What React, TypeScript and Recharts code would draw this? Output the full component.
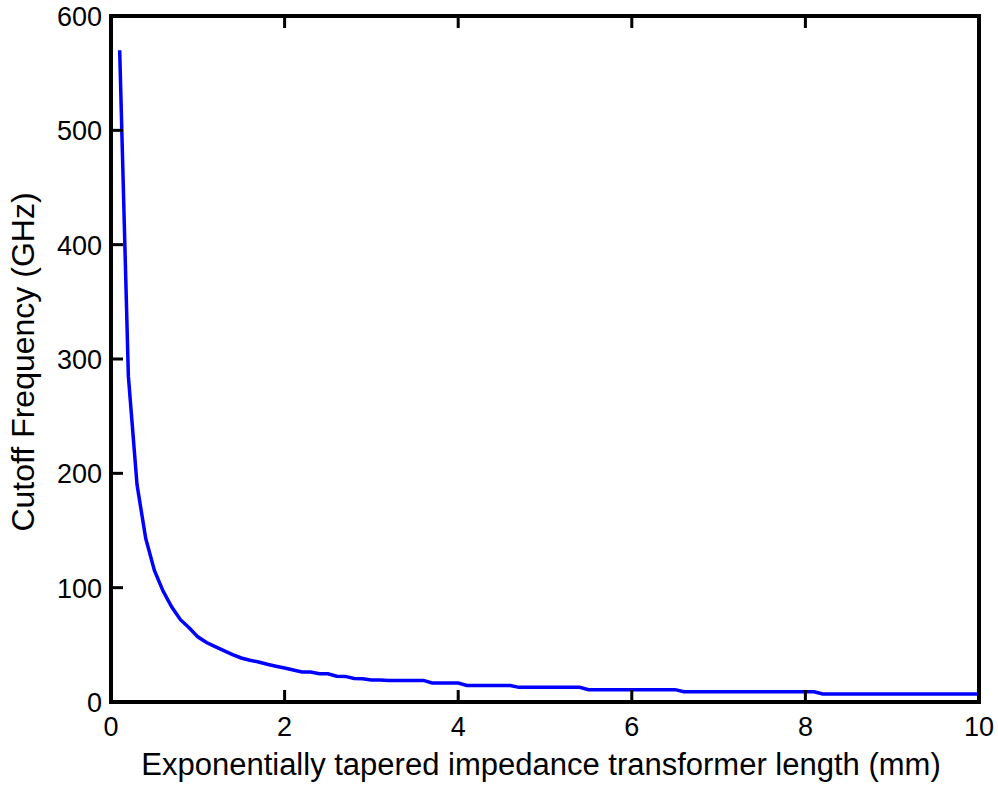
import React from 'react';
import { LineChart, Line, XAxis, YAxis, ReferenceArea } from 'recharts';

const lengthsMm = [
  0.1, 0.2, 0.3, 0.4, 0.5, 0.6, 0.7, 0.8, 0.9, 1.0,
  1.1, 1.2, 1.3, 1.4, 1.5, 1.6, 1.7, 1.8, 1.9, 2.0,
  2.1, 2.2, 2.3, 2.4, 2.5, 2.6, 2.7, 2.8, 2.9, 3.0,
  3.1, 3.2, 3.3, 3.4, 3.5, 3.6, 3.7, 3.8, 3.9, 4.0,
  4.1, 4.2, 4.3, 4.4, 4.5, 4.6, 4.7, 4.8, 4.9, 5.0,
  5.1, 5.2, 5.3, 5.4, 5.5, 5.6, 5.7, 5.8, 5.9, 6.0,
  6.1, 6.2, 6.3, 6.4, 6.5, 6.6, 6.7, 6.8, 6.9, 7.0,
  7.1, 7.2, 7.3, 7.4, 7.5, 7.6, 7.7, 7.8, 7.9, 8.0,
  8.1, 8.2, 8.3, 8.4, 8.5, 8.6, 8.7, 8.8, 8.9, 9.0,
  9.1, 9.2, 9.3, 9.4, 9.5, 9.6, 9.7, 9.8, 9.9, 10.0,
];

const cutoffGHz = [
  570, 285, 190, 143, 115, 97, 83, 72, 65, 57,
  52, 48.5, 45, 41.5, 38.5, 36.5, 35, 33, 31.3, 29.7,
  28, 26.3, 26.2, 24.7, 24.7, 22.5, 22.4, 20.5, 20.4, 19.3,
  19.2, 18.9, 18.9, 18.9, 18.9, 18.9, 16.6, 16.6, 16.6, 16.6,
  14.5, 14.5, 14.5, 14.5, 14.5, 14.5, 12.8, 12.8, 12.8, 12.8,
  12.8, 12.8, 12.8, 12.8, 10.8, 10.8, 10.8, 10.8, 10.8, 10.8,
  10.8, 10.8, 10.8, 10.8, 10.8, 9.0, 9.0, 9.0, 9.0, 9.0,
  9.0, 9.0, 9.0, 9.0, 9.0, 9.0, 9.0, 9.0, 9.0, 9.0,
  9.0, 7.0, 7.0, 7.0, 7.0, 7.0, 7.0, 7.0, 7.0, 7.0,
  7.0, 7.0, 7.0, 7.0, 7.0, 7.0, 7.0, 7.0, 7.0, 7.0,
];

const xTicks = [0, 2, 4, 6, 8, 10];
const yTicks = [0, 100, 200, 300, 400, 500, 600];

const xTitle = 'Exponentially tapered impedance transformer length (mm)';
const yTitle = 'Cutoff Frequency (GHz)';

const data = lengthsMm.map((l, i) => ({ l, f: cutoffGHz[i] }));

const FONT = '"Liberation Sans", Arial, Helvetica, sans-serif';
const TICK_FS = 27;
const TICK_LEN = 12;
const TICK_W = 3;
const TICK_COLOR = '#000000';

const BottomTick = (props: any) => {
  const { x, y, payload } = props;
  return (
    <g>
      <rect x={x - TICK_W / 2} y={y - TICK_LEN} width={TICK_W} height={TICK_LEN} fill={TICK_COLOR} />
      <text x={x} y={y + 34} textAnchor="middle" fontFamily={FONT} fontSize={TICK_FS} fill="#000">
        {payload.value}
      </text>
    </g>
  );
};

const TopTick = (props: any) => {
  const { x, y } = props;
  return <rect x={x - TICK_W / 2} y={y} width={TICK_W} height={TICK_LEN} fill={TICK_COLOR} />;
};

const LeftTick = (props: any) => {
  const { x, y, payload } = props;
  return (
    <g>
      <rect x={x} y={y - TICK_W / 2} width={TICK_LEN} height={TICK_W} fill={TICK_COLOR} />
      <text x={x - 9} y={y + 10} textAnchor="end" fontFamily={FONT} fontSize={TICK_FS} fill="#000">
        {payload.value}
      </text>
    </g>
  );
};

const RightTick = (props: any) => {
  const { x, y } = props;
  return <rect x={x - TICK_LEN} y={y - TICK_W / 2} width={TICK_LEN} height={TICK_W} fill={TICK_COLOR} />;
};

const XTitle = () => (
  <text x={541} y={775} textAnchor="middle" fontFamily={FONT} fontSize={31} fill="#000">
    {xTitle}
  </text>
);

const YTitle = () => (
  <text
    x={34}
    y={362}
    transform="rotate(-90 34 362)"
    textAnchor="middle"
    fontFamily={FONT}
    fontSize={32}
    fill="#000"
  >
    {yTitle}
  </text>
);

export default function App() {
  return (
    <div style={{ position: 'absolute', left: 0, top: 0, width: 998, height: 786, background: '#fff' }}>
      <LineChart
        width={998}
        height={786}
        data={data}
        margin={{ top: 6, right: 9, bottom: 54, left: 51 }}
      >
        <XAxis
          xAxisId="bottom"
          dataKey="l"
          type="number"
          domain={[0, 10]}
          ticks={xTicks}
          height={30}
          tickSize={0}
          tickMargin={0}
          tickLine={false}
          axisLine={false}
          tick={BottomTick}
          interval={0}
          label={<XTitle />}
        />
        <XAxis
          xAxisId="top"
          orientation="top"
          dataKey="l"
          type="number"
          domain={[0, 10]}
          ticks={xTicks}
          height={10}
          tickSize={0}
          tickMargin={0}
          tickLine={false}
          axisLine={false}
          tick={TopTick}
          interval={0}
        />
        <YAxis
          yAxisId="left"
          type="number"
          domain={[0, 600]}
          ticks={yTicks}
          width={60}
          tickSize={0}
          tickMargin={0}
          tickLine={false}
          axisLine={false}
          tick={LeftTick}
          interval={0}
          label={<YTitle />}
        />
        <YAxis
          yAxisId="right"
          orientation="right"
          type="number"
          domain={[0, 600]}
          ticks={yTicks}
          width={10}
          tickSize={0}
          tickMargin={0}
          tickLine={false}
          axisLine={false}
          tick={RightTick}
          interval={0}
        />
        <ReferenceArea
          xAxisId="bottom"
          yAxisId="left"
          x1={0}
          x2={10}
          y1={0}
          y2={600}
          fill="none"
          fillOpacity={0}
          stroke="#000"
          strokeWidth={4}
          strokeOpacity={1}
          ifOverflow="visible"
        />
        <Line
          xAxisId="bottom"
          yAxisId="left"
          type="linear"
          dataKey="f"
          stroke="#0000ff"
          strokeWidth={3.5}
          dot={false}
          isAnimationActive={false}
        />
      </LineChart>
    </div>
  );
}
